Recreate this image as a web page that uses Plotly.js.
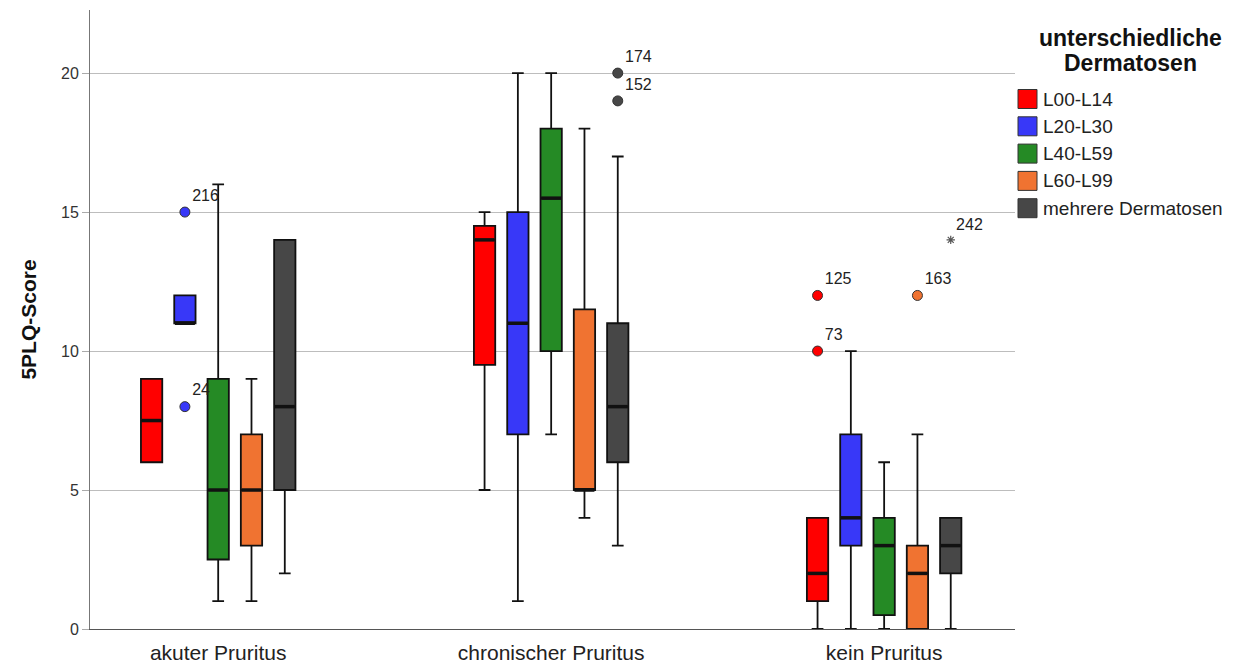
<!DOCTYPE html>
<html>
<head>
<meta charset="utf-8">
<script src="https://cdn.plot.ly/plotly-3.0.1.min.js"></script>
<style>html,body{margin:0;padding:0;background:#fff;}#chart{width:1253px;height:668px;}</style>
</head>
<body>
<div id="chart"></div>
<script>
// ---- data ----
const categories = ["akuter Pruritus", "chronischer Pruritus", "kein Pruritus"];
const seriesNames = ["L00-L14", "L20-L30", "L40-L59", "L60-L99", "mehrere Dermatosen"];
const legendTitle = ["unterschiedliche", "Dermatosen"];
// per series: values for [akuter, chronischer, kein]
const lowerWhisker = [[6, 5, 0], [11, 1, 0], [1, 7, 0], [1, 4, 0], [2, 3, 0]];
const q1Values     = [[6, 9.5, 1], [11, 7, 3], [2.5, 10, 0.5], [3, 5, 0], [5, 6, 2]];
const medianValues = [[7.5, 14, 2], [11, 11, 4], [5, 15.5, 3], [5, 5, 2], [8, 8, 3]];
const q3Values     = [[9, 14.5, 4], [12, 15, 7], [9, 18, 4], [7, 11.5, 3], [14, 11, 4]];
const upperWhisker = [[9, 15, 4], [12, 20, 10], [16, 20, 6], [9, 18, 7], [14, 17, 4]];
// outliers
const outlierSeries   = [1, 1, 4, 4, 0, 0, 3, 4];
const outlierCategory = [0, 0, 1, 1, 2, 2, 2, 2];
const outlierValue    = [15, 8, 20, 19, 12, 10, 12, 14];
const outlierLabel    = ["216", "24", "174", "152", "125", "73", "163", "242"];
const outlierExtreme  = [false, false, false, false, false, false, false, true];

// ---- styles ----
const colors = ["#ff0000", "#3838f8", "#258a25", "#f07331", "#474747"];
const groupStep = 0.1;
const boxWidth = 0.064;
const offset = i => (i - 2) * groupStep;
const fontMain = "Liberation Sans, Arial, sans-serif";

const traces = [];
seriesNames.forEach((name, i) => {
  const xs = categories.map((c, k) => k + offset(i));
  traces.push({
    type: "box",
    name: name,
    x: xs,
    q1: q1Values[i],
    median: medianValues[i],
    q3: q3Values[i],
    lowerfence: lowerWhisker[i],
    upperfence: upperWhisker[i],
    width: boxWidth,
    whiskerwidth: 0.55,
    fillcolor: colors[i],
    line: {color: "#111111", width: 1.8},
    hoverinfo: "skip",
    showlegend: false
  });
  // thicker median bars
  const mx = [], my = [];
  xs.forEach((x, k) => {
    mx.push(x - boxWidth / 2 + 0.002, x + boxWidth / 2 - 0.002, null);
    my.push(medianValues[i][k], medianValues[i][k], null);
  });
  traces.push({
    type: "scatter", mode: "lines", x: mx, y: my,
    line: {color: "#111111", width: 3.5},
    hoverinfo: "skip", showlegend: false
  });
});

outlierValue.forEach((v, j) => {
  const s = outlierSeries[j];
  const ext = outlierExtreme[j];
  traces.push({
    type: "scatter",
    mode: "markers+text",
    x: [outlierCategory[j] + offset(s)],
    y: [v],
    text: [outlierLabel[j]],
    textposition: "top right",
    textfont: {family: fontMain, size: 16, color: "#222"},
    marker: ext
      ? {symbol: "asterisk-open", size: 7, color: "#555", line: {color: "#555", width: 1.2}}
      : {symbol: "circle", size: 10, color: colors[s], line: {color: "#333", width: 1}},
    showlegend: false,
    hoverinfo: "skip",
    cliponaxis: false
  });
});

// manual legend (paper coords)
const W = 1253, H = 668, mL = 90, mR = 238, mT = 10, mB = 39;
const pw = W - mL - mR, ph = H - mT - mB;
const px = x => (x - mL) / pw;
const py = y => 1 - (y - mT) / ph;
const shapes = [], annotations = [];
seriesNames.forEach((name, i) => {
  const cy = 99 + i * 27.3;
  shapes.push({
    type: "rect", xref: "paper", yref: "paper",
    x0: px(1018), x1: px(1037), y0: py(cy + 9.5), y1: py(cy - 9.5),
    fillcolor: colors[i], line: {color: "#333", width: 1}
  });
  annotations.push({
    xref: "paper", yref: "paper", x: px(1041), y: py(cy),
    xanchor: "left", yanchor: "middle", showarrow: false,
    text: name, font: {family: fontMain, size: 19, color: "#222"}
  });
});
legendTitle.forEach((t, k) => {
  annotations.push({
    xref: "paper", yref: "paper", x: px(1130), y: py(38 + k * 25),
    xanchor: "center", yanchor: "middle", showarrow: false,
    text: "<b>" + t + "</b>", font: {family: fontMain, size: 23, color: "#111"}
  });
});

const layout = {
  width: W, height: H,
  margin: {l: mL, r: mR, t: mT, b: mB},
  paper_bgcolor: "#ffffff",
  plot_bgcolor: "#ffffff",
  boxmode: "overlay",
  showlegend: false,
  font: {family: fontMain, color: "#222"},
  xaxis: {
    range: [-0.385, 2.393],
    tickvals: [0, 1, 2],
    ticktext: categories,
    showgrid: false,
    zeroline: false,
    showline: true,
    linecolor: "#555",
    linewidth: 1,
    ticks: "",
    ticklabelstandoff: 5,
    tickfont: {family: "Liberation Sans Narrow, Arial Narrow, Liberation Sans, sans-serif", size: 21, color: "#222"}
  },
  yaxis: {
    range: [0, 22.27],
    tickvals: [0, 5, 10, 15, 20],
    showgrid: true,
    gridcolor: "#bdbdbd",
    gridwidth: 1,
    zeroline: false,
    showline: true,
    linecolor: "#777",
    linewidth: 1,
    ticks: "outside",
    ticklen: 7,
    tickcolor: "#aaa",
    tickfont: {family: fontMain, size: 16, color: "#333"},
    title: {text: "<b>5PLQ-Score</b>", font: {family: fontMain, size: 21, color: "#111"}, standoff: 18}
  },
  shapes: shapes,
  annotations: annotations
};

Plotly.newPlot("chart", traces, layout, {staticPlot: true, displayModeBar: false});
</script>
</body>
</html>
